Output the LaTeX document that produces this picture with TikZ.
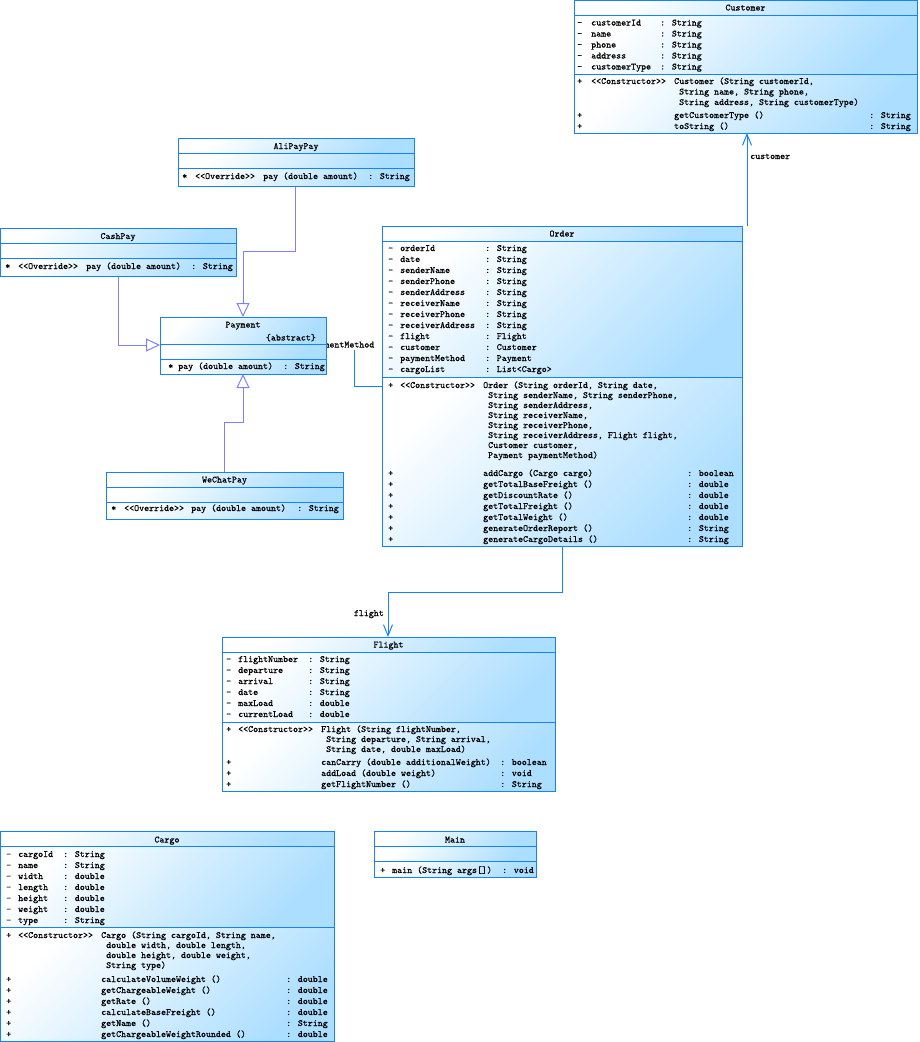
\documentclass[tikz,border=0pt]{standalone}
\usepackage{fontspec}
\newfontfamily\umlfont{lmmono10-regular.otf}[RawFeature={embolden=0.6}]
\usetikzlibrary{arrows.meta,fit}
\definecolor{umlborder}{RGB}{20,130,250}
\definecolor{umlblue}{RGB}{172,222,255}
\definecolor{genline}{RGB}{128,128,255}
\pgfdeclarelayer{bg}
\pgfdeclarelayer{conn}
\pgfdeclarelayer{labs}
\pgfsetlayers{bg,conn,labs,main}
\tikzset{
  txt/.style={anchor=base west, inner sep=0pt, font=\fontsize{9.5}{11}\selectfont\umlfont},
  txtc/.style={txt, anchor=base},
  txte/.style={txt, anchor=base east},
  comp/.style={top color=white, bottom color=umlblue, shading angle=45},
  frame/.style={draw=umlborder, line width=1pt, inner sep=0pt, outer sep=0pt},
  sepline/.style={draw=umlborder, line width=1pt},
  gen/.style={draw=genline, line width=1pt, -{Triangle[open, length=14pt, width=13pt, line width=1pt]}},
  assoc/.style={draw=umlborder, line width=1pt, -{Straight Barb[length=11pt, width=9pt, line width=1pt]}},
  plainassoc/.style={draw=umlborder, line width=1pt},
}
\newcommand\umlbox[7]{%
  \shade[comp] (#2,#3) rectangle (#4,#6);
  \shade[comp] (#2,#6) rectangle (#4,#7);
  \shade[comp] (#2,#7) rectangle (#4,#5);
  \draw[sepline] (#2,#6) -- (#4,#6) (#2,#7) -- (#4,#7);
  \node[frame, fit={(#2,#3) (#4,#5)}] (#1) {};
}
\begin{document}
\begin{tikzpicture}[x=1pt,y=-1pt]
\begin{pgfonlayer}{bg}
\fill[white] (0,0) rectangle (919,1042);
\end{pgfonlayer}
\useasboundingbox (0,0) rectangle (919,1042);

% ---------------- Customer
\umlbox{customer}{574}{0.5}{917}{133}{15}{74}
\node[txtc] (cusT) at (745.5,10.5) {Customer};
\foreach \nm/\t [count=\i from 0] in {customerId/String,name/String,phone/String,address/String,customerType/String}{
  \node[txt] (cusAv\i) at (577,{25.5+11*\i}) {-};
  \node[txt] (cusAn\i) at (591,{25.5+11*\i}) {\nm};
  \node[txt] (cusAt\i) at (660,{25.5+11*\i}) {: \t};
}
\node[txt] (cusM0v) at (577,84) {+};
\node[txt] (cusM0s) at (591,84) {<<Constructor>>};
\node[txt] (cusM0a) at (674,84) {Customer (String customerId,};
\node[txt] (cusM0b) at (679,94.5) {String name, String phone,};
\node[txt] (cusM0c) at (679,105) {String address, String customerType)};
\node[txt] (cusM1v) at (577,118) {+};
\node[txt] (cusM1n) at (674,118) {getCustomerType ()};
\node[txt] (cusM1t) at (869,118) {: String};
\node[txt] (cusM2v) at (577,129) {+};
\node[txt] (cusM2n) at (674,129) {toString ()};
\node[txt] (cusM2t) at (869,129) {: String};

% ---------------- AliPayPay
\umlbox{alipay}{178}{138}{414}{186}{153}{168}
\node[txtc] (aliT) at (296,149) {AliPayPay};
\node[txt] (aliMv) at (182,179) {*};
\node[txt] (aliMs) at (195,179) {<<Override>>};
\node[txt] (aliMn) at (263,179) {pay (double amount)};
\node[txt] (aliMt) at (368,179) {: String};

% ---------------- CashPay
\umlbox{cashpay}{0.5}{228}{236}{276}{243}{258}
\node[txtc] (cashT) at (118,239) {CashPay};
\node[txt] (cashMv) at (5,269) {*};
\node[txt] (cashMs) at (18,269) {<<Override>>};
\node[txt] (cashMn) at (86,269) {pay (double amount)};
\node[txt] (cashMt) at (191,269) {: String};

% ---------------- Payment
\umlbox{payment}{160}{317}{326}{374}{344}{359}
\node[txtc] (payT) at (243,327.5) {Payment};
\node[txte] (payAbs) at (316,340.5) {\{abstract\}};
\node[txt] (payMv) at (168,369) {*};
\node[txt] (payMn) at (178,369) {pay (double amount)};
\node[txt] (payMt) at (283,369) {: String};

% ---------------- WeChatPay
\umlbox{wechat}{106}{472}{343}{519}{487}{502}
\node[txtc] (weT) at (224.5,482.5) {WeChatPay};
\node[txt] (weMv) at (111,511) {*};
\node[txt] (weMs) at (124,511) {<<Override>>};
\node[txt] (weMn) at (191,511) {pay (double amount)};
\node[txt] (weMt) at (297,511) {: String};

% ---------------- Order
\umlbox{order}{382}{226}{742}{546}{241}{377}
\node[txtc] (ordT) at (562,236.5) {Order};
\foreach \nm/\t [count=\i from 0] in {orderId/String,date/String,senderName/String,senderPhone/String,senderAddress/String,receiverName/String,receiverPhone/String,receiverAddress/String,flight/Flight,customer/Customer,paymentMethod/Payment,cargoList/List<Cargo>}{
  \node[txt] (ordAv\i) at (388,{251+11*\i}) {-};
  \node[txt] (ordAn\i) at (400,{251+11*\i}) {\nm};
  \node[txt] (ordAt\i) at (485,{251+11*\i}) {: \t};
}
\node[txt] (ordCv) at (388,388) {+};
\node[txt] (ordCs) at (400,388) {<<Constructor>>};
\node[txt] (ordC0) at (483,388) {Order (String orderId, String date,};
\foreach \ln [count=\i from 0] in {{String senderName, String senderPhone,},{String senderAddress,},{String receiverName,},{String receiverPhone,},{String receiverAddress, Flight flight,},{Customer customer,},{Payment paymentMethod)}}{
  \node[txt] (ordC\i x) at (488,{398+10*\i}) {\ln};
}
\foreach \nm/\t [count=\i from 0] in {{addCargo (Cargo cargo)}/boolean,{getTotalBaseFreight ()}/double,{getDiscountRate ()}/double,{getTotalFreight ()}/double,{getTotalWeight ()}/double,{generateOrderReport ()}/String,{generateCargoDetails ()}/String}{
  \node[txt] (ordMv\i) at (388,{476+11*\i}) {+};
  \node[txt] (ordMn\i) at (483,{476+11*\i}) {\nm};
  \node[txt] (ordMt\i) at (687,{476+11*\i}) {: \t};
}

% ---------------- Flight
\umlbox{flight}{222}{637}{555}{791}{652}{722}
\node[txtc] (fliT) at (388.5,647.5) {Flight};
\foreach \nm/\t [count=\i from 0] in {flightNumber/String,departure/String,arrival/String,date/String,maxLoad/double,currentLoad/double}{
  \node[txt] (fliAv\i) at (226,{662+11*\i}) {-};
  \node[txt] (fliAn\i) at (238,{662+11*\i}) {\nm};
  \node[txt] (fliAt\i) at (308,{662+11*\i}) {: \t};
}
\node[txt] (fliCv) at (226,732) {+};
\node[txt] (fliCs) at (238,732) {<<Constructor>>};
\node[txt] (fliC0) at (321,732) {Flight (String flightNumber,};
\node[txt] (fliC1) at (326,742) {String departure, String arrival,};
\node[txt] (fliC2) at (326,752) {String date, double maxLoad)};
\foreach \nm/\t [count=\i from 0] in {{canCarry (double additionalWeight)}/boolean,{addLoad (double weight)}/void,{getFlightNumber ()}/String}{
  \node[txt] (fliMv\i) at (226,{765+11*\i}) {+};
  \node[txt] (fliMn\i) at (321,{765+11*\i}) {\nm};
  \node[txt] (fliMt\i) at (500,{765+11*\i}) {: \t};
}

% ---------------- Cargo
\umlbox{cargo}{0.5}{831}{334}{1041}{846}{927}
\node[txtc] (carT) at (167,842.5) {Cargo};
\foreach \nm/\t [count=\i from 0] in {cargoId/String,name/String,width/double,length/double,height/double,weight/double,type/String}{
  \node[txt] (carAv\i) at (6,{857+11*\i}) {-};
  \node[txt] (carAn\i) at (18,{857+11*\i}) {\nm};
  \node[txt] (carAt\i) at (63,{857+11*\i}) {: \t};
}
\node[txt] (carCv) at (6,938) {+};
\node[txt] (carCs) at (18,938) {<<Constructor>>};
\node[txt] (carC0) at (101,938) {Cargo (String cargoId, String name,};
\node[txt] (carC1) at (106,948) {double width, double length,};
\node[txt] (carC2) at (106,958) {double height, double weight,};
\node[txt] (carC3) at (106,968) {String type)};
\foreach \nm/\t [count=\i from 0] in {{calculateVolumeWeight ()}/double,{getChargeableWeight ()}/double,{getRate ()}/double,{calculateBaseFreight ()}/double,{getName ()}/String,{getChargeableWeightRounded ()}/double}{
  \node[txt] (carMv\i) at (6,{982+11*\i}) {+};
  \node[txt] (carMn\i) at (101,{982+11*\i}) {\nm};
  \node[txt] (carMt\i) at (286,{982+11*\i}) {: \t};
}

% ---------------- Main
\umlbox{main}{374}{831}{536}{877}{846}{861}
\node[txtc] (mainT) at (455,842.5) {Main};
\node[txt] (mainMv) at (380,873) {+};
\node[txt] (mainMn) at (392,873) {main (String args[])};
\node[txt] (mainMt) at (502,873) {: void};

% ---------------- connectors
\begin{pgfonlayer}{conn}
\draw[assoc] (747,0 |- order.north) -- (747,0 |- customer.south);
\draw[assoc] (562,0 |- order.south) -- (562,592) -- (388,592) -- (388,0 |- flight.north);
\draw[plainassoc] (order.west |- 0,386) -- (354,386) -- (354,344) -- (payment.east |- 0,344);
\draw[gen] (295,0 |- alipay.south) -- (295,251) -- (243,251) -- (243,0 |- payment.north);
\draw[gen] (118,0 |- cashpay.south) -- (118,345) -- (payment.west |- 0,345);
\draw[gen] (224,0 |- wechat.north) -- (224,422) -- (243,422) -- (243,0 |- payment.south);
\end{pgfonlayer}
\begin{pgfonlayer}{labs}
\node[txt] (lblCus) at (750,159) {customer};
\node[txte] (lblFli) at (384,616) {flight};
\node[txte, fill=white, inner sep=0.5pt] (lblPay) at (375,347.5) {paymentMethod};
\end{pgfonlayer}
\end{tikzpicture}
\end{document}
